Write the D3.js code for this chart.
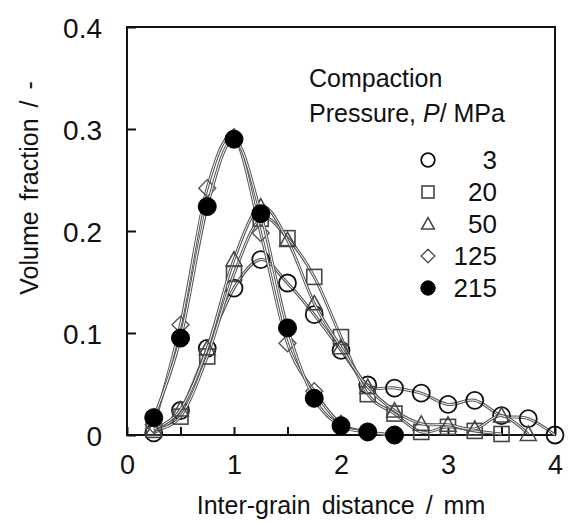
<!DOCTYPE html>
<html>
<head>
<meta charset="utf-8">
<script src="https://cdn.jsdelivr.net/npm/d3@7"></script>
<style>
  body { margin: 0; background: #fff; }
  text { font-family: "Liberation Sans", Arial, sans-serif; fill: #111; }
</style>
</head>
<body>
<div id="chart"></div>
<script>

    // distances (mm) at which volume fraction was measured
    var distances = [0.25, 0.5, 0.75, 1.0, 1.25, 1.5, 1.75, 2.0, 2.25, 2.5, 2.75, 3.0, 3.25, 3.5, 3.75, 4.0];

    // volume fraction per compaction pressure
    var p3   = [0.002, 0.024, 0.085, 0.144, 0.172, 0.149, 0.118, 0.083, 0.049, 0.046, 0.041, 0.030, 0.034, 0.019, 0.016, 0.000];
    var p20  = [0.005, 0.018, 0.077, 0.158, 0.212, 0.193, 0.155, 0.096, 0.040, 0.021, 0.003, 0.008, 0.004, 0.001];
    var p50  = [0.006, 0.025, 0.085, 0.172, 0.224, 0.191, 0.129, 0.086, 0.047, 0.024, 0.011, 0.010, 0.006, 0.019, 0.001];
    var p125 = [0.010, 0.108, 0.242, 0.292, 0.198, 0.090, 0.043, 0.011, 0.003, 0.000];
    var p215 = [0.017, 0.095, 0.224, 0.290, 0.217, 0.105, 0.036, 0.009, 0.003, 0.000];

    var pressures = ["3", "20", "50", "125", "215"];
    var markers = ["circle", "square", "triangle", "diamond", "dot"];
    var seriesValues = [p3, p20, p50, p125, p215];

    var xTicks = [0, 1, 2, 3, 4];
    var yTicks = [0, 0.1, 0.2, 0.3, 0.4];

    //=========================================================================
    // Set Dimensions
    //=========================================================================
    var width = 571, height = 523;
    var margin = { top: 27, right: 16, bottom: 88, left: 127 };

    var svg = d3.select("#chart")
      .append("svg")
      .attr("width", width)
      .attr("height", height);

    var x = d3.scaleLinear().domain([0, 4]).range([margin.left, width - margin.right]);
    var y = d3.scaleLinear().domain([0, 0.4]).range([height - margin.bottom, margin.top]);

    //=========================================================================
    // Axes (ticks inside the frame)
    //=========================================================================
    var xAxis = d3.axisBottom(x)
      .tickValues(d3.range(0, 4.01, 0.5))
      .tickSizeInner(-8).tickSizeOuter(0)
      .tickFormat(function(d) { return xTicks.indexOf(d) >= 0 ? d3.format("d")(d) : ""; });

    svg.append("g")
      .attr("transform", `translate(0, ${y(0)})`)
      .call(xAxis)
      .call(function(g) {
        g.select(".domain").remove();
        g.selectAll("line").attr("stroke", "#111").attr("stroke-width", 2);
        g.selectAll("text")
          .attr("y", 39)
          .attr("dy", 0)
          .style("font-size", "27px")
          .style("font-family", "Liberation Sans, Arial, sans-serif")
          .attr("fill", "#111");
      });

    var yAxis = d3.axisLeft(y)
      .tickValues(yTicks)
      .tickSizeInner(-9).tickSizeOuter(0)
      .tickFormat(function(d) { return d === 0 ? "0" : d3.format(".1f")(d); });

    svg.append("g")
      .attr("transform", `translate(${x(0)}, 0)`)
      .call(yAxis)
      .call(function(g) {
        g.select(".domain").remove();
        g.selectAll("line").attr("stroke", "#111").attr("stroke-width", 2);
        g.selectAll("text")
          .attr("x", -25)
          .attr("dy", "0.36em")
          .style("font-size", "28px")
          .style("font-family", "Liberation Sans, Arial, sans-serif")
          .attr("fill", "#111");
      });

    // frame
    svg.append("rect")
      .attr("x", x(0))
      .attr("y", y(0.4))
      .attr("width", x(4) - x(0))
      .attr("height", y(0) - y(0.4))
      .attr("fill", "none")
      .attr("stroke", "#111")
      .attr("stroke-width", 2);

    //=========================================================================
    // Series: smoothed lines + markers
    //=========================================================================
    var line = d3.line()
      .x(function(d) { return x(d[0]); })
      .y(function(d) { return y(d[1]); })
      .curve(d3.curveCardinal.tension(0));

    function drawMarker(g, type, cx, cy, s) {
      if (type == "circle") {
        g.append("circle").attr("cx", cx).attr("cy", cy).attr("r", 8.5 * s)
          .attr("fill", "none").attr("stroke", "#111").attr("stroke-width", 1.8);
      } else if (type == "dot") {
        g.append("circle").attr("cx", cx).attr("cy", cy).attr("r", 9 * s)
          .attr("fill", "#000").attr("stroke", "#000").attr("stroke-width", 1);
      } else if (type == "square") {
        var h = 7.5 * s;
        g.append("rect").attr("x", cx - h).attr("y", cy - h).attr("width", 2 * h).attr("height", 2 * h)
          .attr("fill", "none").attr("stroke", "#444").attr("stroke-width", 1.6);
      } else if (type == "triangle") {
        var t = 8 * s;
        g.append("path")
          .attr("d", `M${cx},${cy - t}L${cx + t},${cy + t * 0.8}L${cx - t},${cy + t * 0.8}Z`)
          .attr("fill", "none").attr("stroke", "#444").attr("stroke-width", 1.5);
      } else if (type == "diamond") {
        var dd = 8.5 * s;
        g.append("path")
          .attr("d", `M${cx},${cy - dd}L${cx + dd},${cy}L${cx},${cy + dd}L${cx - dd},${cy}Z`)
          .attr("fill", "none").attr("stroke", "#555").attr("stroke-width", 1.4);
      }
    }

    var gPlot = svg.append("g");

    seriesValues.forEach(function(vals, i) {
      var pts = vals.map(function(v, j) { return [distances[j], v]; });
      var g = gPlot.append("g");

      // double-edged grey line like the original rendering
      g.append("path").attr("d", line(pts))
        .attr("fill", "none").attr("stroke", "#555").attr("stroke-width", 3);
      g.append("path").attr("d", line(pts))
        .attr("fill", "none").attr("stroke", "#fff").attr("stroke-width", 1);

      pts.forEach(function(p) {
        drawMarker(g, markers[i], x(p[0]), y(p[1]), 1);
      });
    });

    //=========================================================================
    // Legend
    //=========================================================================
    var title = svg.append("text")
      .attr("x", 309)
      .attr("y", 87)
      .style("font-size", "25px")
      .text("Compaction");

    var title2 = svg.append("text")
      .attr("x", 309)
      .attr("y", 122)
      .style("font-size", "25px");
    title2.append("tspan").text("Pressure,  ");
    title2.append("tspan").style("font-style", "italic").text("P");
    title2.append("tspan").text("/ MPa");

    var legendY = d3.scalePoint().domain(pressures).range([160, 288]);

    pressures.forEach(function(p, i) {
      var ly = legendY(p);
      drawMarker(svg, markers[i], 428, ly, 0.8);
      svg.append("text")
        .attr("x", 497)
        .attr("y", ly)
        .attr("dy", "0.36em")
        .attr("text-anchor", "end")
        .style("font-size", "26px")
        .text(p);
    });

    //=========================================================================
    // Axis titles
    //=========================================================================
    svg.append("text")
      .attr("x", (x(0) + x(4)) / 2)
      .attr("y", 514)
      .attr("text-anchor", "middle")
      .style("font-size", "25px")
      .style("word-spacing", "4px")
      .text("Inter-grain distance / mm");

    svg.append("text")
      .attr("transform", "translate(38, 188) rotate(-90)")
      .attr("text-anchor", "middle")
      .style("font-size", "25px")
      .style("word-spacing", "4px")
      .text("Volume fraction / -");

</script>
</body>
</html>
